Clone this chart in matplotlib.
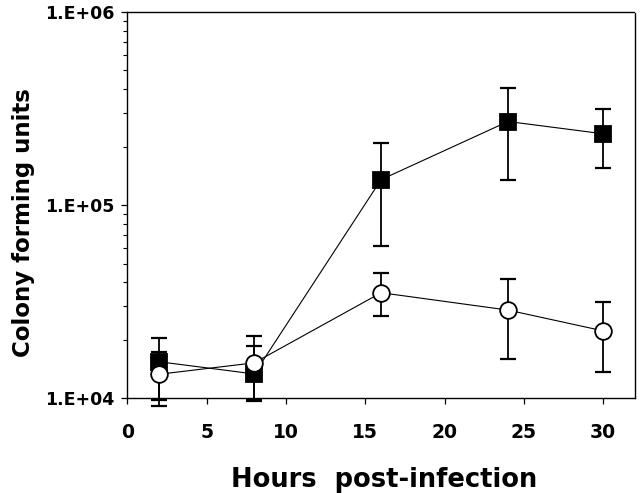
import matplotlib
matplotlib.use("Agg")
import matplotlib.pyplot as plt
import numpy as np
from matplotlib.ticker import FixedLocator, LogLocator, NullFormatter

hours = [2, 8, 16, 24, 30]

# filled squares
sq_mean = [1.55e4, 1.34e4, 1.36e5, 2.72e5, 2.35e5]
sq_upper = [2.05e4, 1.87e4, 2.11e5, 4.05e5, 3.15e5]
sq_lower = [9.8e3, 9.8e3, 6.17e4, 1.36e5, 1.57e5]

# open circles
ci_mean = [1.335e4, 1.53e4, 3.53e4, 2.87e4, 2.24e4]
ci_upper = [1.75e4, 2.11e4, 4.46e4, 4.15e4, 3.15e4]
ci_lower = [9.15e3, 9.7e3, 2.68e4, 1.61e4, 1.37e4]

x_ticks = [0, 5, 10, 15, 20, 25, 30]
y_ticks = [1e4, 1e5, 1e6]
y_ticklabels = ["1.E+04", "1.E+05", "1.E+06"]

plt.rcParams['font.family'] = ['DejaVu Sans']
plt.rcParams['font.weight'] = 'bold'

fig = plt.figure(figsize=(6.4, 4.93), dpi=100)
ax = fig.add_axes([0.199, 0.1917, 0.793, 0.7833])

def draw(mean, upper, lower, marker, face, ms, z):
    mean = np.array(mean)
    yerr = [mean - np.array(lower), np.array(upper) - mean]
    ax.errorbar(hours, mean, yerr=yerr, fmt='none', ecolor='black',
                elinewidth=1.3, capsize=5.5, capthick=1.6, zorder=z, clip_on=False)
    ax.plot(hours, mean, color='black', lw=0.8, marker=marker, ms=ms,
            markerfacecolor=face, markeredgecolor='black', markeredgewidth=1.3,
            zorder=z + 1, clip_on=False)

draw(sq_mean, sq_upper, sq_lower, 's', 'black', 11, 2)
draw(ci_mean, ci_upper, ci_lower, 'o', 'white', 12, 4)

ax.set_yscale('log')
ax.set_xlim(0, 32)
ax.set_ylim(1e4, 1e6)

ax.xaxis.set_major_locator(FixedLocator(x_ticks))
ax.set_xticklabels([str(t) for t in x_ticks], fontsize=13.5, fontweight='bold')
ax.yaxis.set_major_locator(FixedLocator(y_ticks))
ax.set_yticklabels(y_ticklabels, fontsize=12.5, fontweight='bold')
ax.yaxis.set_minor_locator(LogLocator(base=10, subs=np.arange(2, 10)))
ax.yaxis.set_minor_formatter(NullFormatter())

ax.tick_params(axis='both', which='major', direction='out', length=4.5, width=0.9, pad=5)
ax.tick_params(axis='y', which='minor', direction='out', length=3, width=0.8)
ax.tick_params(axis='x', pad=13)
ax.tick_params(top=False, right=False)

for s in ['left', 'bottom']:
    ax.spines[s].set_linewidth(1.0)
for s in ['top', 'right']:
    ax.spines[s].set_linewidth(1.0)
    ax.spines[s].set_linestyle((0, (1, 1)))

ax.set_xlabel('Hours  post-infection', fontsize=18.5, fontweight='bold')
ax.set_ylabel('Colony forming units', fontsize=16.5, fontweight='bold')
ax.xaxis.set_label_coords(0.506, -0.178)
ax.yaxis.set_label_coords(-0.182, 0.455)

fig.savefig('out.png', dpi=100)
